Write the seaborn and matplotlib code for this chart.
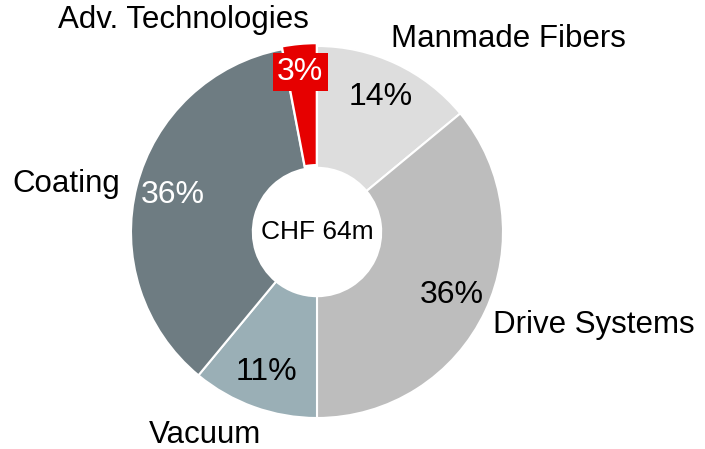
import matplotlib.pyplot as plt
import seaborn as sns

sns.set_theme(style="white")
plt.rcParams['font.family'] = ['Liberation Sans', 'DejaVu Sans']

# data
segments = ['Manmade Fibers', 'Drive Systems', 'Vacuum', 'Coating', 'Adv. Technologies']
shares = [14, 36, 11, 36, 3]
colors = ['#DDDDDD', '#BDBDBD', '#9AAFB6', '#6E7C82', '#E60000']
pct_colors = ['black', 'black', 'black', 'white', 'white']
total_label = 'CHF 64m'

# where the category names sit (data coords, radius = 1)
label_pos = [(1.03, 1.04), (1.49, -0.50), (-0.60, -1.09), (-1.35, 0.26), (-0.72, 1.14)]

fig = plt.figure(figsize=(7.05, 4.49), dpi=100)
cx, cy, r = 317, 449 - 232, 186
ax = fig.add_axes([(cx - r) / 705, (cy - r) / 449, 2 * r / 705, 2 * r / 449])

explode = [0, 0, 0, 0, 0.015]
wedges, texts, autotexts = ax.pie(
    shares, colors=colors, startangle=90, counterclock=False,
    explode=explode, autopct='%d%%', pctdistance=0.8, radius=1,
    wedgeprops=dict(width=0.655, edgecolor='white', linewidth=1.5),
    textprops=dict(fontsize=23))

for t, c in zip(autotexts, pct_colors):
    t.set_color(c)

# red box under the small slice
red = autotexts[4]
red.set_position((-0.09, 0.86))
red.set_bbox(dict(facecolor='#E60000', edgecolor='none', pad=3))

for name, (x, y) in zip(segments, label_pos):
    ax.text(x, y, name, ha='center', va='center', fontsize=22.5, color='black')

ax.text(0, 0, total_label, ha='center', va='center', fontsize=19, color='black')

ax.set_xlim(-1, 1)
ax.set_ylim(-1, 1)
ax.set_aspect('equal')
ax.axis('off')

fig.savefig('out.png', dpi=100)
